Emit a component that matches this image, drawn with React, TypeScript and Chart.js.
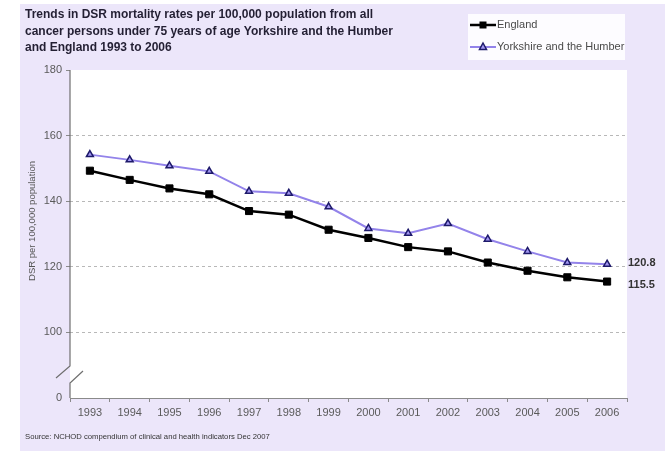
import React, { useEffect, useRef } from "react";
import { Chart, registerables } from "chart.js";

Chart.register(...registerables);

const years = ["1993", "1994", "1995", "1996", "1997", "1998", "1999", "2000", "2001", "2002", "2003", "2004", "2005", "2006"];
const england = [149.3, 146.5, 143.9, 142.1, 137.0, 135.9, 131.3, 128.8, 126.0, 124.7, 121.3, 118.8, 116.8, 115.5];
const yorkshire = [154.2, 152.6, 150.8, 149.1, 143.0, 142.4, 138.3, 131.7, 130.2, 133.2, 128.4, 124.7, 121.3, 120.8];

const titleLines = [
  "Trends in DSR mortality rates per 100,000 population from all",
  "cancer persons under 75 years of age Yorkshire and the Humber",
  "and England 1993 to 2006",
];
const yAxisTitle = "DSR per 100,000 population";
const sourceText = "Source: NCHOD compendium of clinical and health indicators Dec 2007";

// The value axis is broken: the bottom tick stands for zero.
const AXIS_MIN = 80;
const AXIS_MAX = 180;

const FONT = "'Liberation Sans', Arial, sans-serif";
const PANEL = "#ece6fa";

const decorations = {
  id: "decorations",
  beforeDraw(chart: any) {
    const { ctx, chartArea: a } = chart;
    ctx.save();
    ctx.fillStyle = "#ffffff";
    ctx.fillRect(0, 0, chart.width, chart.height);
    ctx.fillStyle = PANEL;
    ctx.fillRect(20, 4, 645, chart.height - 4);
    ctx.fillStyle = "#ffffff";
    ctx.fillRect(a.left, a.top, a.right - a.left, a.bottom - a.top);
    ctx.restore();
  },
  beforeDatasetsDraw(chart: any) {
    const { ctx, chartArea: a } = chart;
    const x = a.left;
    ctx.save();
    ctx.strokeStyle = "#6f6f6f";
    ctx.lineWidth = 1.2;
    ctx.beginPath();
    ctx.moveTo(x, a.top);
    ctx.lineTo(x, a.bottom - 32);
    ctx.lineTo(x - 14, a.bottom - 20);
    ctx.moveTo(x, a.bottom);
    ctx.lineTo(x, a.bottom - 15);
    ctx.lineTo(x + 13, a.bottom - 27);
    ctx.stroke();
    ctx.restore();
  },
  afterDraw(chart: any) {
    const { ctx, chartArea: a } = chart;
    const yScale = chart.scales.y;
    ctx.save();

    // title
    ctx.fillStyle = "#231f33";
    ctx.font = `bold 12px ${FONT}`;
    ctx.textBaseline = "middle";
    ctx.textAlign = "left";
    titleLines.forEach((t, i) => ctx.fillText(t, 25, 15 + i * 16.2));

    // y axis title
    ctx.save();
    ctx.translate(32, 221);
    ctx.rotate(-Math.PI / 2);
    ctx.textAlign = "center";
    ctx.fillStyle = "#555555";
    ctx.font = `9.5px ${FONT}`;
    ctx.fillText(yAxisTitle, 0, 0);
    ctx.restore();

    // legend
    ctx.fillStyle = "#fdfcff";
    ctx.fillRect(468, 14, 157, 46);
    const items = [
      { ds: chart.data.datasets[0], y: 25 },
      { ds: chart.data.datasets[1], y: 47 },
    ];
    items.forEach(({ ds, y }) => {
      ctx.strokeStyle = ds.borderColor;
      ctx.lineWidth = ds.borderWidth;
      ctx.beginPath();
      ctx.moveTo(470, y);
      ctx.lineTo(496, y);
      ctx.stroke();
      ctx.fillStyle = ds.pointBackgroundColor;
      ctx.strokeStyle = ds.pointBorderColor;
      ctx.lineWidth = ds.pointBorderWidth;
      ctx.beginPath();
      if (ds.pointStyle === "rect") {
        ctx.rect(479.5, y - 3.5, 7, 7);
        ctx.fill();
      } else {
        ctx.moveTo(483, y - 4);
        ctx.lineTo(486.5, y + 2.5);
        ctx.lineTo(479.5, y + 2.5);
        ctx.closePath();
        ctx.fill();
        ctx.stroke();
      }
      ctx.fillStyle = "#4a4a4a";
      ctx.font = `11px ${FONT}`;
      ctx.textBaseline = "middle";
      ctx.fillText(ds.label, 497, y);
    });

    // end values
    ctx.font = `bold 11px ${FONT}`;
    ctx.fillStyle = "#333333";
    const yk = yorkshire[yorkshire.length - 1];
    const en = england[england.length - 1];
    ctx.fillText(yk.toFixed(1), a.right + 1, yScale.getPixelForValue(yk) - 1);
    ctx.fillText(en.toFixed(1), a.right + 1, yScale.getPixelForValue(en) + 3);

    // source
    ctx.font = `7.7px ${FONT}`;
    ctx.fillStyle = "#333333";
    ctx.fillText(sourceText, 25, 437);
    ctx.restore();
  },
};

export default function App() {
  const ref = useRef<HTMLCanvasElement>(null);

  useEffect(() => {
    if (!ref.current) return;
    const chart = new Chart(ref.current, {
      type: "line",
      data: {
        labels: years,
        datasets: [
          {
            label: "England",
            data: england,
            borderColor: "#000000",
            backgroundColor: "#000000",
            borderWidth: 2.5,
            pointStyle: "rect",
            pointRadius: 5,
            pointBackgroundColor: "#000000",
            pointBorderColor: "#000000",
            pointBorderWidth: 1,
            tension: 0,
          },
          {
            label: "Yorkshire and the Humber",
            data: yorkshire,
            borderColor: "#9383ea",
            backgroundColor: "#9d90f0",
            borderWidth: 2,
            pointStyle: "triangle",
            pointRadius: 4,
            pointBackgroundColor: "#a297f2",
            pointBorderColor: "#1e1a6b",
            pointBorderWidth: 1.5,
            tension: 0,
          },
        ],
      },
      options: {
        responsive: false,
        animation: false,
        layout: { autoPadding: false, padding: { top: 70, right: 40, left: 0, bottom: 0 } },
        plugins: {
          legend: { display: false },
          title: { display: false },
          tooltip: { enabled: false },
        },
        scales: {
          x: {
            type: "category",
            offset: true,
            afterFit: (s: any) => {
              s.height = 53;
            },
            grid: {
              offset: true,
              drawOnChartArea: false,
              drawTicks: true,
              tickLength: 4,
              color: "#8a8a8a",
            },
            border: { display: true, color: "#8a8a8a", width: 1 },
            ticks: {
              color: "#5a5a5a",
              font: { family: FONT, size: 11 },
              padding: 4,
              maxRotation: 0,
              autoSkip: false,
            },
          },
          y: {
            type: "linear",
            min: AXIS_MIN,
            max: AXIS_MAX,
            afterFit: (s: any) => {
              s.width = 70;
            },
            grid: {
              drawTicks: true,
              tickLength: 4,
              color: (c: any) =>
                c.tick && (c.tick.value === AXIS_MIN || c.tick.value === AXIS_MAX) ? "rgba(0,0,0,0)" : "#b8b8b8",
              tickColor: (c: any) => (c.tick && c.tick.value === AXIS_MIN ? "rgba(0,0,0,0)" : "#8a8a8a"),
              tickBorderDash: [],
              lineWidth: 1,
            },
            border: { display: false, dash: [3, 3] },
            ticks: {
              stepSize: 20,
              color: "#5a5a5a",
              font: { family: FONT, size: 11 },
              padding: 4,
              callback: (v: any) => (v === AXIS_MIN ? "0" : String(v)),
            },
          },
        },
      },
      plugins: [decorations],
    });
    return () => chart.destroy();
  }, []);

  return (
    <div style={{ position: "fixed", left: 0, top: 0, width: 667, height: 451 }}>
      <canvas ref={ref} width={667} height={451} style={{ display: "block" }} />
    </div>
  );
}
